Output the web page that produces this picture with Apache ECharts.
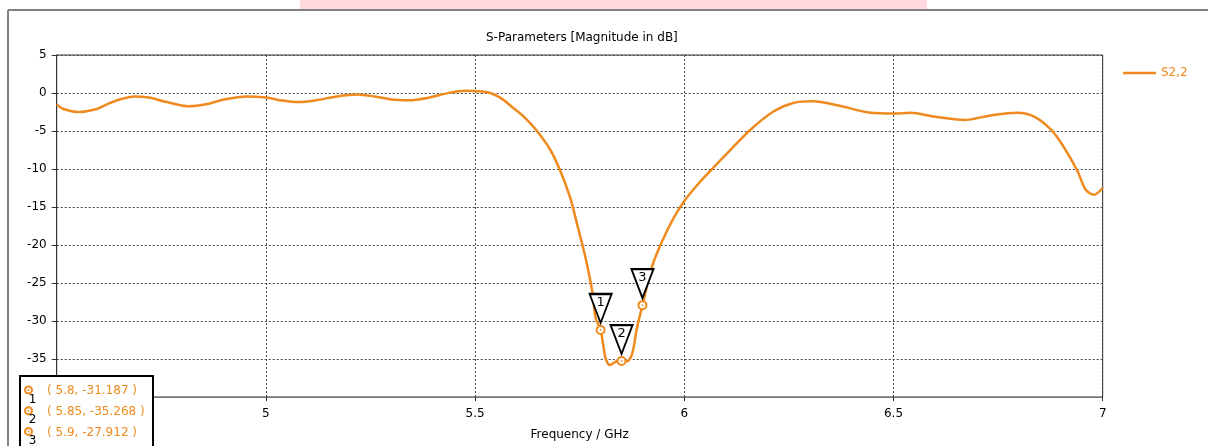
<!DOCTYPE html>
<html>
<head>
<meta charset="utf-8">
<script src="https://cdn.jsdelivr.net/npm/echarts@6/dist/echarts.min.js"></script>
<style>
  html, body { margin: 0; padding: 0; background: #fff; }
  #chart { width: 1208px; height: 446px; }
</style>
</head>
<body>
<div id="chart"></div>
<script>
// S2,2 magnitude curve (GHz, dB)
const freq = [4.500, 4.516, 4.552, 4.596, 4.620, 4.650, 4.687, 4.720, 4.760, 4.815,
  4.860, 4.900, 4.954, 5.000, 5.040, 5.078, 5.120, 5.170, 5.218, 5.260,
  5.300, 5.341, 5.390, 5.440, 5.477, 5.500, 5.536, 5.565, 5.592, 5.620,
  5.648, 5.680, 5.704, 5.728, 5.744, 5.764, 5.780, 5.788, 5.800, 5.806,
  5.812, 5.822, 5.839, 5.850, 5.863, 5.875, 5.887, 5.900, 5.923, 5.947,
  5.975, 6.000, 6.031, 6.063, 6.111, 6.158, 6.214, 6.262, 6.306, 6.366,
  6.445, 6.501, 6.541, 6.597, 6.669, 6.733, 6.796, 6.836, 6.876, 6.908,
  6.940, 6.959, 6.979, 7.000]
const s22 = [-1.5, -2.1, -2.5, -2.1, -1.5, -0.85, -0.45, -0.6, -1.15, -1.75,
  -1.45, -0.85, -0.45, -0.6, -1.0, -1.2, -0.95, -0.45, -0.2, -0.45,
  -0.85, -0.95, -0.6, 0.05, 0.3, 0.25, 0.0, -0.8, -2.0, -3.3,
  -5.0, -7.5, -10.3, -13.9, -17.3, -21.7, -26.1, -29.6, -31.187, -33.1,
  -34.9, -35.8, -35.3, -35.268, -35.3, -34.4, -30.9, -27.912, -22.8, -19.5,
  -16.4, -14.2, -12.1, -10.2, -7.46, -4.83, -2.4, -1.3, -1.1, -1.6,
  -2.6, -2.7, -2.6, -3.1, -3.55, -2.95, -2.6, -3.1, -4.8, -7.2,
  -10.3, -12.7, -13.4, -12.5]

// markers
const markerId = ['1', '2', '3']
const markerFreq = [5.8, 5.85, 5.9]
const markerVal = [-31.187, -35.268, -27.912]

const ORANGE = '#ef8a1f'
const FONT = 'DejaVu Sans'

const chart = echarts.init(document.getElementById('chart'))

const lineData = freq.map((f, i) => [f, s22[i]])
const markerData = markerFreq.map((f, i) => [f, markerVal[i]])

// 标记框 (bottom-left marker list)
const boxItems = [{
  type: 'rect',
  shape: { x: 20, y: 376, width: 133, height: 90 },
  style: { fill: '#fff', stroke: '#000', lineWidth: 2 },
  z: 100
}]
for (let i = 0; i < markerId.length; i++) {
  const cy = 390 + i * 20.7
  boxItems.push({
    type: 'circle', shape: { cx: 28.5, cy: cy, r: 3.5 },
    style: { fill: '#fff', stroke: ORANGE, lineWidth: 2 }, z: 101
  })
  boxItems.push({
    type: 'circle', shape: { cx: 28.5, cy: cy, r: 1 },
    style: { fill: ORANGE }, z: 102
  })
  boxItems.push({
    type: 'text', x: 32.5, y: cy + 9.5,
    style: { text: markerId[i], fill: '#000', font: '12px ' + FONT, align: 'center', verticalAlign: 'middle' },
    z: 102
  })
  boxItems.push({
    type: 'text', x: 47, y: cy + 1,
    style: {
      text: '( ' + markerFreq[i] + ', ' + markerVal[i] + ' )',
      fill: ORANGE, font: '12px ' + FONT, verticalAlign: 'middle'
    },
    z: 102
  })
}

const option = {
  backgroundColor: '#fff',
  animation: false,
  textStyle: { fontFamily: FONT },
  title: {
    text: 'S-Parameters [Magnitude in dB]',
    left: 481,
    top: 27,
    textStyle: { fontSize: 12, fontWeight: 'normal', color: '#000', fontFamily: FONT }
  },
  legend: {
    data: ['S2,2'],
    left: 1118,
    top: 62,
    icon: 'rect',
    itemWidth: 33,
    itemHeight: 2.5,
    itemGap: 6,
    textStyle: { color: ORANGE, fontSize: 12, fontFamily: FONT }
  },
  grid: {
    left: 56.7,
    right: 105.3,
    top: 55,
    bottom: 48,
    show: true,
    borderColor: '#333',
    borderWidth: 1,
    backgroundColor: 'transparent'
  },
  xAxis: {
    type: 'value',
    min: 4.5,
    max: 7,
    interval: 0.5,
    name: 'Frequency / GHz',
    nameLocation: 'middle',
    nameGap: 32,
    nameTextStyle: { color: '#000', fontSize: 12, fontFamily: FONT },
    axisLine: { show: true, onZero: false, lineStyle: { color: '#777', width: 1 } },
    axisTick: { show: true, length: 4, lineStyle: { color: '#333' } },
    axisLabel: { color: '#000', fontSize: 12, margin: 11, fontFamily: FONT },
    splitLine: { show: true, lineStyle: { color: '#444', type: [2, 2], width: 1 } }
  },
  yAxis: {
    type: 'value',
    min: -40,
    max: 5,
    interval: 5,
    axisLine: { show: true, lineStyle: { color: '#333', width: 1 } },
    axisTick: { show: true, length: 5, lineStyle: { color: '#333' } },
    axisLabel: { color: '#000', fontSize: 12, margin: 10, fontFamily: FONT },
    splitLine: { show: true, lineStyle: { color: '#444', type: [2, 2], width: 1 } }
  },
  series: [
    {
      name: 'S2,2',
      type: 'line',
      data: lineData,
      smooth: 0.3,
      showSymbol: false,
      lineStyle: { color: ORANGE, width: 2.5 },
      itemStyle: { color: ORANGE },
      z: 3,
      markPoint: {
        symbol: 'path://M0,0 L22,0 L11,29 Z',
        symbolSize: [22, 29],
        symbolOffset: [0, -21.5],
        itemStyle: { color: '#fff', borderColor: '#000', borderWidth: 2 },
        label: {
          show: true,
          position: 'inside',
          offset: [0, -6],
          color: '#000',
          fontSize: 13,
          fontFamily: FONT,
          formatter: p => p.name
        },
        z: 6,
        data: markerData.map((c, i) => ({ name: markerId[i], coord: c }))
      }
    },
    {
      name: 'markers',
      type: 'scatter',
      data: markerData,
      symbol: 'circle',
      symbolSize: 8,
      itemStyle: { color: '#fff', borderColor: ORANGE, borderWidth: 2, opacity: 1 },
      z: 4
    },
    {
      name: 'markerDots',
      type: 'scatter',
      data: markerData,
      symbol: 'circle',
      symbolSize: 2,
      itemStyle: { color: ORANGE },
      z: 5
    }
  ],
  graphic: [
    // pink strip and outer frame
    { type: 'rect', shape: { x: 300, y: 0, width: 627, height: 9 }, style: { fill: '#ffd9dd' }, z: 0 },
    { type: 'line', shape: { x1: 8, y1: 10, x2: 1208, y2: 10 }, style: { stroke: '#808080', lineWidth: 2 }, z: 0 },
    { type: 'line', shape: { x1: 8, y1: 10, x2: 8, y2: 446 }, style: { stroke: '#808080', lineWidth: 2 }, z: 0 },
    { type: 'group', children: boxItems, z: 100 }
  ]
}

chart.setOption(option)
</script>
</body>
</html>
